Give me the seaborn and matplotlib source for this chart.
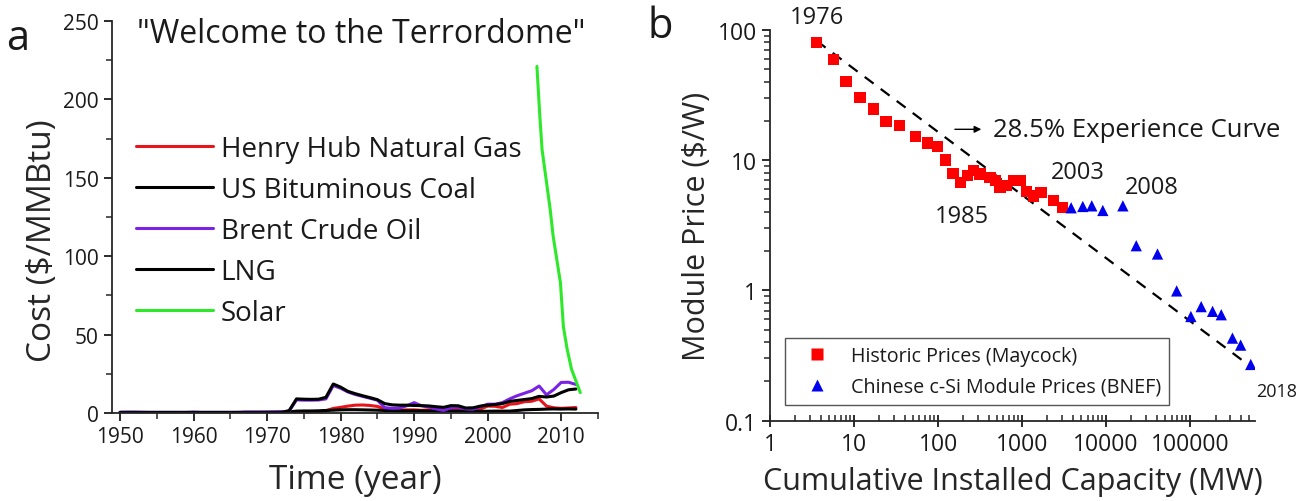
import numpy as np
import pandas as pd
import matplotlib
matplotlib.use("Agg")
import matplotlib.pyplot as plt
import seaborn as sns
from matplotlib.ticker import MultipleLocator, LogLocator, NullFormatter, FuncFormatter

# ---------------- data: fuel costs ($/MMBtu) ----------------
years = list(range(1950, 2013))

henry_hub = [0.1, 0.1, 0.1, 0.1, 0.1, 0.1, 0.1, 0.1, 0.1, 0.1,
             0.1, 0.1, 0.2, 0.2, 0.2, 0.2, 0.2, 0.2, 0.2, 0.2,
             0.2, 0.2, 0.2, 0.2, 0.3, 0.4, 0.6,
             0.9, 1.5, 2.9, 3.6, 4.4, 5.0, 5.1, 4.8, 4.2, 2.6, 2.0, 1.9,
             2.0, 2.0, 1.7, 2.0, 2.3, 2.0, 1.8, 2.7, 2.6, 2.2, 2.5, 4.4,
             4.3, 3.5, 5.6, 6.0, 7.2, 7.5, 9.0, 4.4, 3.3, 3.0, 3.2, 3.5]

us_coal = [0.4, 0.4, 0.4, 0.4, 0.4, 0.4, 0.4, 0.4, 0.4, 0.4,
           0.4, 0.4, 0.4, 0.4, 0.4, 0.4, 0.4, 0.4, 0.4, 0.4,
           0.5, 0.5, 0.6, 0.7,
           1.2, 1.3, 1.3, 1.4, 1.6, 1.8, 2.0, 2.1, 2.1, 2.0, 1.9, 1.8,
           1.6, 1.5, 1.4, 1.4, 1.4, 1.4, 1.3, 1.3, 1.2, 1.2, 1.2, 1.2,
           1.2, 1.1, 1.1, 1.2, 1.2, 1.2, 1.6, 2.0, 2.2, 2.3, 2.5, 2.6,
           2.5, 2.6, 2.5]

brent = [0.5, 0.6, 0.6, 0.5, 0.4, 0.4, 0.4, 0.4, 0.4, 0.4,
         0.6, 0.4, 0.4, 0.4, 0.4, 0.4, 0.4, 0.7, 0.7, 0.7,
         0.7, 0.8, 0.8, 1.2,
         8.4, 8.2, 8.2, 8.3, 9.0, 17.5, 15.8, 13.4, 11.8, 10.6, 9.4, 8.2,
         3.4, 3.0, 3.2, 4.6, 6.6, 4.6, 3.8, 2.6, 1.6, 3.4, 3.6, 2.6,
         2.4, 4.0, 5.6, 5.6, 6.6, 9.0, 11.0, 12.6, 14.2, 17.2, 11.6, 15.0,
         19.5, 19.6, 18.2]

lng = [0.3, 0.3, 0.3, 0.3, 0.3, 0.3, 0.3, 0.3, 0.3, 0.3,
       0.3, 0.3, 0.3, 0.3, 0.3, 0.3, 0.3, 0.3, 0.3, 0.3,
       0.3, 0.3, 0.4, 1.5,
       9.0, 8.8, 8.7, 8.8, 10.0, 18.5, 16.5, 13.8, 12.3, 11.0, 9.8, 8.5,
       6.0, 5.2, 5.0, 5.0, 4.8, 4.7, 4.5, 4.0, 3.6, 4.7, 4.6, 3.2,
       3.3, 4.4, 5.0, 5.4, 6.0, 7.4, 8.0, 8.6, 9.2, 10.6, 10.2, 10.8,
       13.0, 14.8, 15.3]

solar_year = [2006.7, 2007.1, 2007.4, 2008.5, 2008.9, 2009.9, 2010.3, 2010.8, 2011.4, 2012.6]
solar_cost = [221, 189, 168, 130, 113, 83, 55, 41, 28, 13]

series_names = ["Henry Hub Natural Gas", "US Bituminous Coal", "Brent Crude Oil", "LNG", "Solar"]
series_colors = ["#e8141b", "#000000", "#7a22e6", "#000000", "#2ee82a"]

# ---------------- data: PV module experience curve ----------------
hist_capacity = [3.6, 5.7, 8.0, 11.8, 17, 24, 35, 54, 75, 99, 123, 151, 186, 223, 264,
                 316, 416, 478, 547, 658, 789, 946, 1137, 1364, 1683, 2360, 3050]
hist_price = [80, 59, 40, 30, 24.6, 19.7, 18.3, 15.2, 13.5, 12.7, 10.0, 7.9, 6.7, 7.6, 8.3,
              7.8, 7.3, 7.0, 6.2, 6.4, 7.0, 7.0, 5.7, 5.3, 5.6, 4.9, 4.3]

cn_capacity = [3830, 5270, 6740, 9120, 15800, 22800, 40800, 69000, 101800, 135000,
               184500, 234000, 318000, 398000, 525000]
cn_price = [4.3, 4.4, 4.45, 4.1, 4.45, 2.2, 1.9, 0.99, 0.63, 0.75,
            0.69, 0.65, 0.43, 0.38, 0.27]

learning_rate = 0.285
curve_capacity = [3.6, 430000]
curve_start_price = 82

source_names = ["Historic Prices (Maycock)", "Chinese c-Si Module Prices (BNEF)"]

# ---------------- style ----------------
sns.set_theme(style="ticks")
plt.rcParams["font.family"] = ["Open Sans", "DejaVu Sans"]
plt.rcParams["axes.linewidth"] = 1.3
plt.rcParams["xtick.major.width"] = 1.3
plt.rcParams["ytick.major.width"] = 1.3
plt.rcParams["xtick.minor.width"] = 1.1
plt.rcParams["ytick.minor.width"] = 1.1
plt.rcParams["text.color"] = "#1a1a1a"

fig = plt.figure(figsize=(13.11, 5.02), dpi=100)
axA = fig.add_axes([0.0854, 0.1753, 0.3707, 0.781])
axB = fig.add_axes([0.5873, 0.16, 0.370, 0.7789])

# ---------------- panel a ----------------
frames = []
for name, vals in zip(series_names[:4], [henry_hub, us_coal, brent, lng]):
    frames.append(pd.DataFrame({"year": years, "cost": vals, "series": name}))
frames.append(pd.DataFrame({"year": solar_year, "cost": solar_cost, "series": "Solar"}))
df_a = pd.concat(frames, ignore_index=True)

sns.lineplot(data=df_a, x="year", y="cost", hue="series", hue_order=series_names,
             palette=dict(zip(series_names, series_colors)), estimator=None,
             sort=False, linewidth=2.2, ax=axA)

axA.set_xlim(1948.9, 2015)
axA.set_ylim(0, 250)
axA.xaxis.set_major_locator(MultipleLocator(10))
axA.xaxis.set_minor_locator(MultipleLocator(5))
axA.yaxis.set_major_locator(MultipleLocator(50))
axA.yaxis.set_minor_locator(MultipleLocator(25))
axA.tick_params(which="major", direction="out", length=6, labelsize=15, colors="#1a1a1a")
axA.tick_params(which="minor", direction="out", length=4)
axA.set_xlabel("Time (year)", fontsize=24)
axA.set_ylabel("Cost ($/MMBtu)", fontsize=24)
axA.xaxis.set_label_coords(0.5, -(480 - 414) / 392)
axA.xaxis.label.set_verticalalignment("center")
axA.yaxis.set_label_coords(-0.142, 1 - (241 - 22) / 392)
axA.yaxis.label.set_verticalalignment("center")
sns.despine(ax=axA)
axA.set_title('"Welcome to the Terrordome"', fontsize=23, x=0.512, y=0.925)
axA.legend(loc="upper left", bbox_to_anchor=(0.026, 0.738), frameon=False,
           fontsize=20, handlelength=2.77, handletextpad=0.29, labelspacing=0.47,
           borderaxespad=0)
fig.text(0.005, 1 - 50 / 502, "a", fontsize=30, va="baseline")

# ---------------- panel b ----------------
df_b = pd.concat([
    pd.DataFrame({"capacity": hist_capacity, "price": hist_price, "source": source_names[0]}),
    pd.DataFrame({"capacity": cn_capacity, "price": cn_price, "source": source_names[1]}),
], ignore_index=True)

axB.set_xscale("log")
axB.set_yscale("log")
sns.scatterplot(data=df_b, x="capacity", y="price", hue="source", style="source",
                hue_order=source_names, style_order=source_names,
                palette=dict(zip(source_names, ["#ff0000", "#0000ee"])),
                markers=dict(zip(source_names, ["s", "^"])),
                s=66, edgecolor="none", ax=axB, zorder=3)

# experience curve: price falls by the learning rate with each doubling of capacity
exponent = np.log2(1 - learning_rate)
curve_price = [curve_start_price * (c / curve_capacity[0]) ** exponent for c in curve_capacity]
axB.plot(curve_capacity, curve_price, linestyle=(0, (5, 4)), color="black", linewidth=1.6, zorder=2)

axB.set_xlim(1, 5.9e5)
axB.set_ylim(0.1, 100)
fmt = FuncFormatter(lambda v, p: f"{v:g}" if v < 1e4 else f"{int(round(v))}")
axB.xaxis.set_major_locator(LogLocator(base=10, numticks=10))
axB.yaxis.set_major_locator(LogLocator(base=10, numticks=10))
axB.xaxis.set_minor_locator(LogLocator(base=10, subs=np.arange(2, 10), numticks=20))
axB.yaxis.set_minor_locator(LogLocator(base=10, subs=np.arange(2, 10), numticks=20))
axB.xaxis.set_major_formatter(fmt)
axB.yaxis.set_major_formatter(fmt)
axB.xaxis.set_minor_formatter(NullFormatter())
axB.yaxis.set_minor_formatter(NullFormatter())
axB.tick_params(axis="x", which="major", direction="inout", length=9, labelsize=16.5, colors="#1a1a1a")
axB.tick_params(axis="x", which="minor", direction="in", length=4)
axB.tick_params(axis="y", which="major", direction="out", length=6, labelsize=16.5, colors="#1a1a1a")
axB.tick_params(axis="y", which="minor", direction="out", length=4)
axB.set_xlabel("Cumulative Installed Capacity (MW)", fontsize=22)
axB.set_ylabel("Module Price ($/W)", fontsize=22)
axB.xaxis.set_label_coords(0.501, -(482 - 421.7) / 391)
axB.xaxis.label.set_verticalalignment("center")
axB.yaxis.set_label_coords(-0.15, 0.5)
axB.yaxis.label.set_verticalalignment("center")
sns.despine(ax=axB)

leg = axB.legend(loc="lower left", bbox_to_anchor=(0.031, 0.041), fontsize=14.2,
                 frameon=True, fancybox=False, edgecolor="#555555", framealpha=1,
                 handlelength=2.45, handletextpad=0.5, borderpad=0.4, labelspacing=0.55,
                 borderaxespad=0)
leg.get_frame().set_linewidth(1.0)

# year labels attached to their points
lab = dict(fontsize=17, ha="center", va="center", textcoords="offset pixels")
axB.annotate("1976", xy=(hist_capacity[0], hist_price[0]), xytext=(0, 25), **lab)
axB.annotate("1985", xy=(hist_capacity[12], hist_price[12]), xytext=(1, -33), **lab)
axB.annotate("2003", xy=(cn_capacity[0], cn_price[0]), xytext=(7, 36), **lab)
axB.annotate("2008", xy=(cn_capacity[4], cn_price[4]), xytext=(29, 19), **lab)
axB.annotate("2018", xy=(cn_capacity[-1], cn_price[-1]), xytext=(26, -27),
             annotation_clip=False, **dict(lab, fontsize=13))

axB.annotate("", xy=(353, 17.2), xytext=(147, 17.2),
             arrowprops=dict(arrowstyle="-|>", color="black", lw=1.0, mutation_scale=10))
axB.text(452, 17.1, "28.5% Experience Curve", fontsize=18.5, ha="left", va="center")
fig.text(0.494, 1 - 38 / 502, "b", fontsize=30, va="baseline")

fig.savefig("out.png", dpi=100)
